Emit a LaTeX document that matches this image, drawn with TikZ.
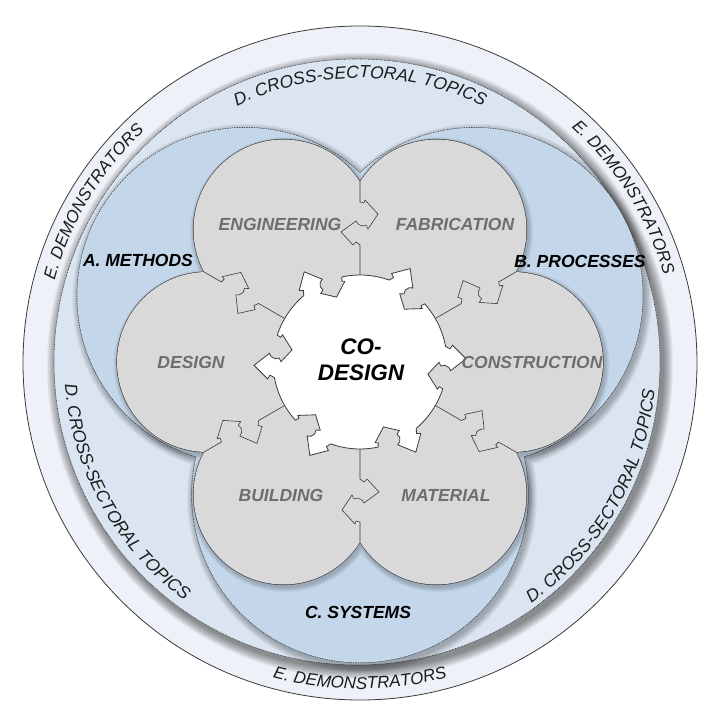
\documentclass[tikz,border=0pt]{standalone}
\usepackage{fontspec}
\setsansfont{Liberation Sans}
\usetikzlibrary{decorations.text}

\definecolor{ringE}{HTML}{EEF2F8}
\definecolor{ringD}{HTML}{DBE5F1}
\definecolor{regionblue}{HTML}{C4D6E9}
\definecolor{topicgray}{HTML}{D9D9D9}
\definecolor{labelgray}{HTML}{6E6E6E}
\definecolor{edgegray}{HTML}{3A3A3A}
\definecolor{ringink}{HTML}{1C1C1C}

\newcommand{\efont}{\sffamily\itshape\fontsize{17}{17}\selectfont}
\newcommand{\dfont}{\sffamily\itshape\fontsize{17.5}{17.5}\selectfont}
% points of one puzzle joint (along / across)
\newcommand{\jointpts}{0/0, 1/4, -2/5, 12/18, 27/8, 23/6, 24/2, 22/-2, 19/-4, 30/-19, 43/-7, 40/-4, 43/0, 48/0}

\begin{document}
\begin{tikzpicture}[x=1pt, y=1pt,
  topic/.style={font=\sffamily\bfseries\itshape\fontsize{17.5}{17.5}\selectfont, text=labelgray, inner sep=0pt},
  region/.style={font=\sffamily\bfseries\itshape\fontsize{17.5}{17.5}\selectfont, inner sep=0pt},
  etext/.style={decorate, decoration={text along path, text align=center, text color=ringink, text={|\efont|#1}}},
  dtext/.style={decorate, decoration={text along path, text align=center, text color=ringink, text={|\dfont|#1}}}]

\useasboundingbox (-360,-358) rectangle (360,362);

% plot the demonstrators ring
\fill[ringE] (0,-1) circle[radius=337];
\draw[edgegray, line width=0.8pt] (0,-1) circle[radius=337];

% plot the cross-sectoral ring
\foreach \i in {0,...,9}
  \fill[black, opacity=0.05] (0,-4) circle[radius=303+10-\i];
\fill[ringD] (-3,0) circle[radius=303];
\draw[edgegray, line width=0.6pt, dash pattern=on 0.8pt off 0.8pt] (-3,0) circle[radius=303];

% plot the three regions
\begin{scope}[shift={(2,-3)}]
\foreach \i in {0,...,6}
  \fill[black, opacity=0.045] (150:132.5) circle[radius=168+7-\i] (30:132.5) circle[radius=168+7-\i] (-90:132.5) circle[radius=168+7-\i];
\end{scope}
\draw[edgegray, line width=1.4pt, dash pattern=on 1.2pt off 1.2pt] (150:132.5) circle[radius=168] (30:132.5) circle[radius=168] (-90:132.5) circle[radius=168];
\fill[regionblue] (150:132.5) circle[radius=168] (30:132.5) circle[radius=168] (-90:132.5) circle[radius=168];

% plot the six topics
\begin{scope}[shift={(1.5,-2.5)}]
\foreach \i in {0,...,4}
  \fill[black, opacity=0.045] \foreach \a in {0,60,...,300}{(\a:153) circle[radius=90+5-\i]};
\end{scope}
\draw[edgegray, line width=1.2pt] \foreach \a in {0,60,...,300}{(\a:153) circle[radius=90]};
\fill[topicgray] \foreach \a in {0,60,...,300}{(\a:153) circle[radius=90]};
\fill[topicgray] (0,0) circle[radius=89];

% joints between neighbouring topics
\foreach \b in {30,90,...,330}
  \draw[edgegray, line width=0.6pt, rotate=\b] (180,0) -- (160,0)
    \foreach \u/\v in \jointpts {-- ({160-\u},{0-\v})} -- (80,0);

% plot co-design with its joints
\draw[edgegray, line width=0.8pt, fill=white] (-18:87)
  \foreach \a in {0,60,...,300}{
    \foreach \u/\v in \jointpts {-- ({\a-18+\u*0.6586}:{87-\v})}
    arc[start angle={\a-18+48*0.6586}, end angle={\a+42}, radius=87]
  } -- cycle;

\node[font=\sffamily\bfseries\itshape\fontsize{22.5}{26}\selectfont, align=center, inner sep=0pt] (codesign) at (1,2) {CO-\\DESIGN};

\node[topic] (engineering) at (-80,138) {ENGINEERING};
\node[topic] (fabrication) at (95,138) {FABRICATION};
\node[topic] (design) at (-169,0) {DESIGN};
\node[topic] (construction) at (172,0) {CONSTRUCTION};
\node[topic] (building) at (-79,-133) {BUILDING};
\node[topic] (material) at (86,-133) {MATERIAL};

\node[region] (methods) at (-222,102) {A. METHODS};
\node[region] (processes) at (220,101) {B. PROCESSES};
\node[region] (systems) at (-2,-250) {C. SYSTEMS};

% ring texts
\path[dtext={D. CROSS-SECTORAL TOPICS}] (140:284) arc[start angle=140, end angle=40, radius=284];
\path[dtext={D. CROSS-SECTORAL TOPICS}] (159:296) arc[start angle=159, end angle=259, radius=296];
\path[dtext={D. CROSS-SECTORAL TOPICS}] (-80:296) arc[start angle=-80, end angle=20, radius=296];
\path[etext={E. DEMONSTRATORS}] (184:316) arc[start angle=184, end angle=114, radius=316];
\path[etext={E. DEMONSTRATORS}] (67:316) arc[start angle=67, end angle=-3, radius=316];
\path[etext={E. DEMONSTRATORS}] (-125:327) arc[start angle=-125, end angle=-55, radius=327];

\end{tikzpicture}
\end{document}
